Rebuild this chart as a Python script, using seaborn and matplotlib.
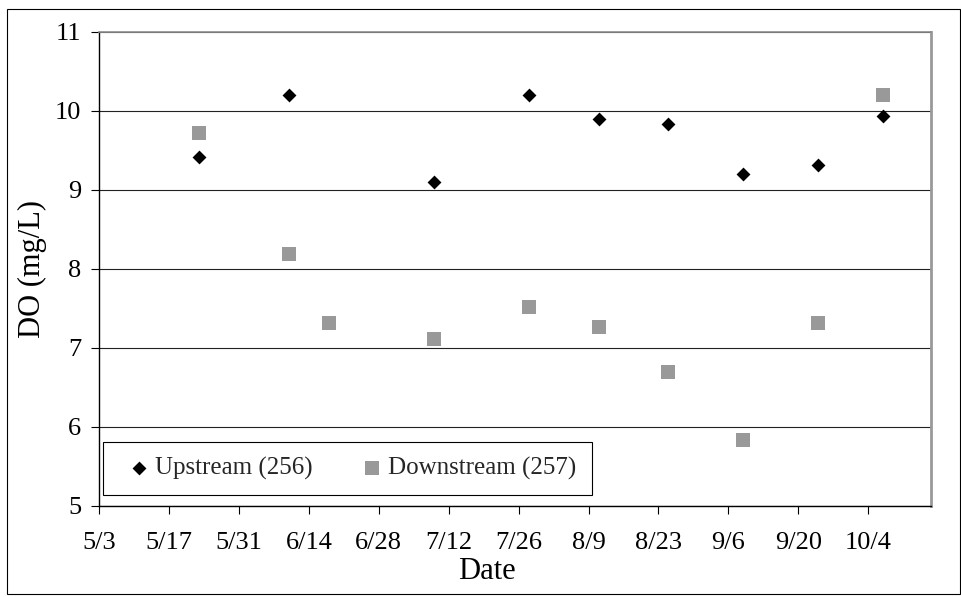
import datetime as dt
import pandas as pd
import matplotlib
matplotlib.use("Agg")
import matplotlib.pyplot as plt
import matplotlib.patches as patches
import seaborn as sns

# --------------------------
# Data (DO in mg/L)
# --------------------------
YEAR = 2007

up_dates = ["5/23", "6/10", "7/9", "7/28", "8/11", "8/25", "9/9", "9/24", "10/7"]
up_do = [9.42, 10.2, 9.1, 10.2, 9.9, 9.83, 9.2, 9.31, 9.93]

down_dates = ["5/23", "6/10", "6/18", "7/9", "7/28", "8/11", "8/25", "9/9", "9/24", "10/7"]
down_do = [9.72, 8.19, 7.32, 7.11, 7.52, 7.26, 6.70, 5.83, 7.32, 10.2]

x_tick_labels = ["5/3", "5/17", "5/31", "6/14", "6/28", "7/12",
                 "7/26", "8/9", "8/23", "9/6", "9/20", "10/4"]
y_ticks = [5, 6, 7, 8, 9, 10, 11]


def to_date(s):
    return dt.datetime.strptime(f"{YEAR}/{s}", "%Y/%m/%d")


up = pd.DataFrame({"Date": [to_date(d) for d in up_dates], "DO": up_do})
down = pd.DataFrame({"Date": [to_date(d) for d in down_dates], "DO": down_do})
tick_dates = [to_date(d) for d in x_tick_labels]

# --------------------------
# Plot
# --------------------------
sns.set_theme(style="white")
plt.rcParams["font.family"] = ["Liberation Serif", "DejaVu Serif"]

fig = plt.figure(figsize=(9.62, 5.97), dpi=100)
ax = fig.add_axes([99.3 / 962, 1 - 506 / 597, (931 - 99.3) / 962, (506 - 31.7) / 597])

sns.scatterplot(data=up, x="Date", y="DO", marker="D", s=50, color="black",
                linewidth=0, label="Upstream (256)", ax=ax, zorder=3)
sns.scatterplot(data=down, x="Date", y="DO", marker="s", s=100, color="#999999",
                linewidth=0, label="Downstream (257)", ax=ax, zorder=3)

ax.set_xlim(tick_dates[0], tick_dates[0] + dt.timedelta(days=166.6))
ax.set_ylim(5, 11)
ax.set_xticks(tick_dates)
ax.set_xticklabels(x_tick_labels)
ax.set_yticks(y_ticks)
ax.tick_params(axis="both", labelsize=19, direction="out", length=6,
               width=0.8, color="black", labelcolor="black")
ax.tick_params(axis="x", pad=13, bottom=True)
ax.tick_params(axis="y", pad=7, left=True)

ax.set_axisbelow(True)
ax.yaxis.grid(True, color="#222222", linewidth=0.8)
ax.xaxis.grid(False)

for side in ["left", "bottom"]:
    ax.spines[side].set_color("black")
    ax.spines[side].set_linewidth(1.0)
ax.spines["top"].set_color("#8c8c8c")
ax.spines["top"].set_linewidth(1.2)
ax.spines["right"].set_color("#999999")
ax.spines["right"].set_linewidth(2.0)

ax.set_xlabel("Date", fontsize=22, color="black")
ax.set_ylabel("DO (mg/L)", fontsize=22, color="black")
ax.xaxis.set_label_coords(0.466, -0.108)
ax.yaxis.set_label_coords(-0.063, 0.5)

leg = ax.legend(loc="lower left", bbox_to_anchor=(0.0044, 0.0232), ncol=2,
                frameon=True, fancybox=False, edgecolor="black", framealpha=1,
                fontsize=18, borderpad=0.6, handlelength=1.68, handletextpad=-0.2,
                columnspacing=1.55, borderaxespad=0, scatterpoints=1)
leg.get_frame().set_linewidth(0.8)

# outer chart-area frame
fig.patches.append(patches.Rectangle((7 / 962, 1 - 594 / 597), (960 - 7) / 962,
                                     (594 - 9) / 597, transform=fig.transFigure,
                                     fill=False, edgecolor="black", linewidth=0.8))

fig.savefig("out.png", dpi=100)
